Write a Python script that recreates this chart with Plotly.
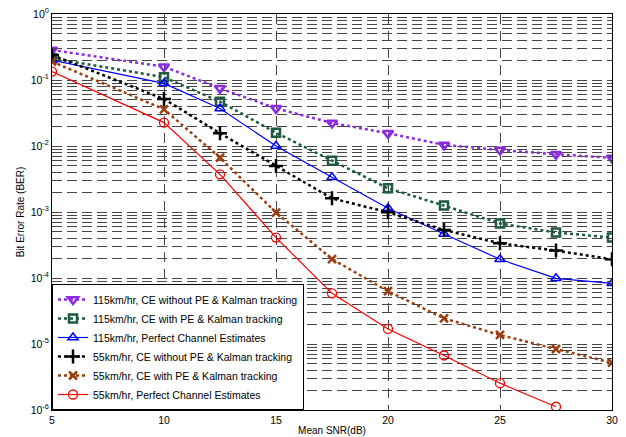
import plotly.graph_objects as go

snr = [5, 10, 12.5, 15, 17.5, 20, 22.5, 25, 27.5, 30]
snr_red = [5, 10, 12.5, 15, 17.5, 20, 22.5, 25, 27.5]

ber_115_ce_noPE = [0.285, 0.159, 0.0748, 0.0372, 0.0223, 0.0156, 0.0104, 0.0087, 0.0075, 0.0066]
ber_115_ce_PE = [0.213, 0.11, 0.047, 0.0159, 0.006, 0.00229, 0.00125, 0.00067, 0.00049, 0.00041]
ber_115_perfect = [0.2, 0.089, 0.037, 0.0100, 0.00335, 0.00114, 0.000464, 0.000192, 9.9e-5, 8.3e-5]
ber_55_ce_noPE = [0.239, 0.0515, 0.0156, 0.00498, 0.00161, 0.00099, 0.000534, 0.000335, 0.00026, 0.000192]
ber_55_ce_PE = [0.19, 0.036, 0.00665, 0.00098, 0.000194, 6.3e-5, 2.45e-5, 1.37e-5, 8.4e-6, 5.2e-6]
ber_55_perfect = [0.134, 0.0226, 0.00372, 0.00041, 5.85e-5, 1.69e-5, 6.7e-6, 2.55e-6, 1.12e-6]

names = [
    "115km/hr, CE without PE & Kalman tracking",
    "115km/hr, CE with PE & Kalman tracking",
    "115km/hr, Perfect Channel Estimates",
    "55km/hr, CE without PE & Kalman tracking",
    "55km/hr, CE with PE & Kalman tracking",
    "55km/hr, Perfect Channel Estimates",
]

x_ticks = [5, 10, 15, 20, 25, 30]
y_decades = [-6, -5, -4, -3, -2, -1, 0]

fig = go.Figure()
styles = [
    ("#8a2be2", "dot", 2.5, "triangle-down-open", 9, 2.5),
    ("#1e5a3c", "dot", 2.5, "square-open", 8, 2.5),
    ("#0000ff", "solid", 1.2, "triangle-up-open", 9, 1.5),
    ("#000000", "dot", 2.5, "cross-thin-open", 10, 2.5),
    ("#9c3d0f", "dot", 2.5, "x-thin-open", 8, 2.5),
    ("#ff0000", "solid", 1.2, "circle-open", 9, 1.3),
]
xs = [snr, snr, snr, snr, snr, snr_red]
ys = [ber_115_ce_noPE, ber_115_ce_PE, ber_115_perfect, ber_55_ce_noPE, ber_55_ce_PE, ber_55_perfect]

for i, (name, x, y, st) in enumerate(zip(names, xs, ys, styles)):
    color, dash, lw, sym, msize, mlw = st
    fig.add_trace(go.Scatter(
        x=x, y=y, name=name, mode="lines+markers",
        legendgroup=f"g{i}",
        line=dict(color=color, dash=dash, width=lw),
        marker=dict(symbol=sym, size=msize, color=color, line=dict(color=color, width=mlw)),
    ))

y_tickvals = []
y_ticktext = []
for d in y_decades:
    for m in range(1, 10):
        if d == 0 and m > 1:
            break
        y_tickvals.append(m * 10 ** d)
        y_ticktext.append(f"10<sup>{d}</sup>" if m == 1 else "")

gridc = "rgb(70,70,70)"
fig.update_layout(
    width=626, height=437,
    margin=dict(l=52, r=14, t=14, b=27),
    paper_bgcolor="white", plot_bgcolor="white",
    font=dict(family="Liberation Sans, Arial, sans-serif", size=10, color="black"),
    showlegend=True,
    legend=dict(
        x=0, y=0, xanchor="left", yanchor="bottom",
        bgcolor="white", bordercolor="black", borderwidth=1,
        font=dict(size=10.5), traceorder="grouped", tracegroupgap=0,
    ),
    xaxis=dict(
        range=[5, 30], tickvals=x_ticks, ticks="inside", ticklen=5,
        showline=True, linecolor="black", linewidth=1, mirror="ticks",
        showgrid=True, gridcolor=gridc, gridwidth=1, griddash="10px,7px",
        zeroline=False, automargin=False,
        title=dict(text="Mean SNR(dB)", standoff=2, font=dict(size=10)),
        tickfont=dict(size=10.5),
    ),
    yaxis=dict(
        type="log", range=[-6, 0], tickmode="array",
        tickvals=y_tickvals, ticktext=y_ticktext,
        ticks="inside", ticklen=4,
        showline=True, linecolor="black", linewidth=1, mirror="ticks",
        showgrid=True, gridcolor=gridc, gridwidth=1, griddash="10px,5px",
        zeroline=False, automargin=False,
        title=dict(text="Bit Error Rate (BER)", standoff=4, font=dict(size=10)),
        tickfont=dict(size=10.5),
    ),
)

fig.write_html(
    "out.html",
    config={"displayModeBar": False},
    post_script="document.body.style.margin='0';document.body.style.padding='0';",
)
